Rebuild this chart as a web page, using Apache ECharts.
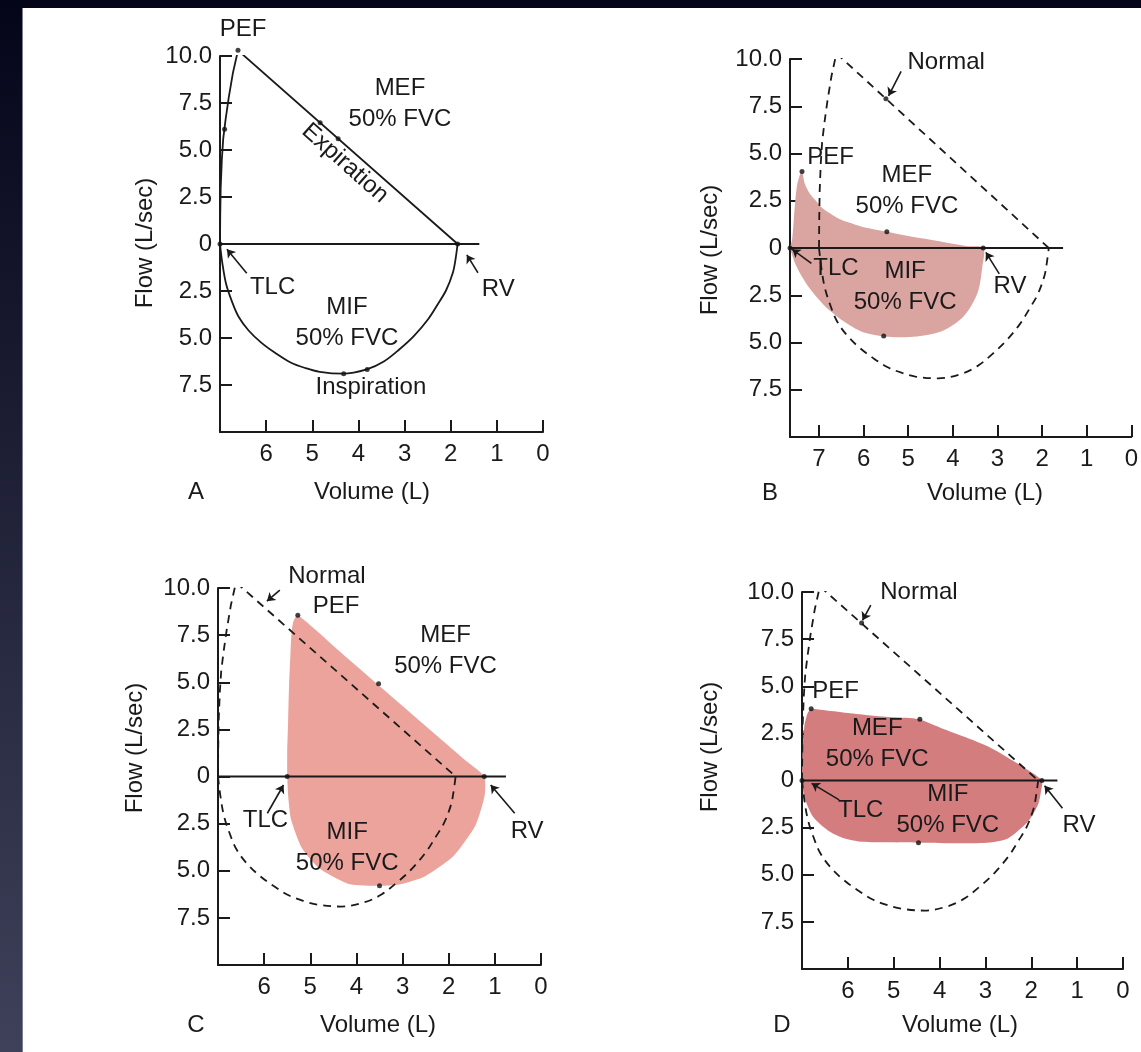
<!DOCTYPE html>
<html><head><meta charset="utf-8">
<script src="https://cdn.jsdelivr.net/npm/echarts@6/dist/echarts.min.js"></script>
<style>
html,body{margin:0;padding:0;width:1141px;height:1052px;overflow:hidden;background:#05051a;}
#band{position:absolute;left:0;top:0;width:22px;height:1052px;background:linear-gradient(#05051a,#3e4159);}
#paper{position:absolute;left:22px;top:8px;width:1119px;height:1044px;background:#fff;border-left:1px solid #7a7c90;}
#chart{position:absolute;left:0;top:0;width:1141px;height:1052px;}
</style></head><body>
<div id="band"></div><div id="paper"></div><div id="chart"></div>
<script>
// ---------- DATA ----------
const panelNames = ['A', 'B', 'C', 'D'];
const volumeMax = [7, 7.65, 7, 7];
const zeroLineEnd = [1.38, 1.53, 0.76, 1.43];

// Normal flow-volume loop [volume L, flow L/s] (solid in A, dashed "Normal" in B-D)
const normalExpiration = [[7,0],[6.995,1.5],[6.985,3],[6.96,4.5],[6.93,5.6],[6.88,6.6],[6.81,7.8],[6.72,9.1],[6.61,10.3],[1.85,0]];
const normalInspiration = [[7,0],[6.95,-1.0],[6.87,-2.1],[6.75,-3.0],[6.6,-3.86],[6.38,-4.6],[6.1,-5.26],[5.8,-5.8],[5.47,-6.3],[5.15,-6.6],[4.84,-6.8],[4.33,-6.9],[3.82,-6.67],[3.45,-6.25],[3.11,-5.6],[2.8,-4.9],[2.49,-4.0],[2.28,-3.2],[2.1,-2.46],[1.95,-1.5],[1.9,-0.88],[1.85,0]];

// Patient loops (closed outlines)
const loopB = [[7.65,0],[7.6,0.5],[7.55,2.0],[7.5,3.2],[7.44,3.8],[7.38,4.05],[7.32,3.41],[7.21,2.89],[7.05,2.45],[6.92,2.1],[6.7,1.75],[6.49,1.48],[6.2,1.25],[5.97,1.09],[5.48,0.86],[5.0,0.63],[4.5,0.43],[4.1,0.26],[3.7,0.1],[3.32,0],[3.34,-1.0],[3.45,-2.4],[3.75,-3.6],[4.2,-4.35],[4.8,-4.68],[5.55,-4.68],[6.1,-4.37],[6.74,-3.35],[7.22,-2.1],[7.52,-0.9],[7.65,0]];
const loopC = [[5.5,0],[5.5,1.3],[5.48,3.0],[5.46,4.83],[5.43,6.5],[5.41,7.5],[5.37,8.2],[5.27,8.55],[4.3,6.5],[3.3,4.38],[2.3,2.26],[1.6,0.78],[1.23,0],[1.22,-1.0],[1.42,-2.6],[1.89,-4.2],[2.52,-5.3],[3.07,-5.73],[3.5,-5.8],[4.17,-5.7],[4.79,-4.9],[5.18,-3.8],[5.42,-2.25],[5.48,-1.0],[5.5,0]];
const loopD = [[7,0],[6.99,1.45],[6.95,2.86],[6.88,3.55],[6.8,3.8],[6.6,3.75],[6.0,3.58],[5.5,3.45],[5.0,3.35],[4.46,3.25],[3.9,2.72],[3.29,2.16],[2.9,1.75],[2.5,1.2],[2.1,0.6],[1.77,0],[1.79,-0.6],[1.84,-1.2],[1.95,-1.75],[2.1,-2.26],[2.5,-3.06],[2.9,-3.29],[3.5,-3.33],[4.46,-3.3],[5.2,-3.28],[5.76,-3.23],[6.1,-3.05],[6.4,-2.71],[6.76,-1.92],[6.95,-0.86],[7,0]];
const patientLoops = [null, loopB, loopC, loopD];

// Key points (dots)
const dotsA = [[7,0],[6.9,6.1],[6.61,10.3],[4.83,6.45],[4.44,5.6],[1.85,0],[4.32,-6.9],[3.81,-6.67]];
const dotsB = [[7.65,0],[7.38,4.05],[5.48,0.86],[3.32,0],[5.55,-4.65],[5.5,7.9]];
const dotsC = [[5.5,0],[5.27,8.55],[3.52,4.92],[1.23,0],[3.5,-5.8]];
const dotsD = [[7,0],[6.8,3.8],[4.43,3.25],[1.77,0],[4.46,-3.3],[5.7,8.35]];
const dots = [dotsA, dotsB, dotsC, dotsD];

// Annotation texts [volume, flow, text]
const notesA = [[6.5,11.4,'PEF'],[3.1,7.45,'MEF\n50% FVC'],[4.29,4.29,'Expiration'],[5.86,-2.3,'TLC'],[4.25,-4.18,'MIF\n50% FVC'],[3.73,-7.62,'Inspiration'],[0.97,-2.43,'RV']];
const notesB = [[4.15,9.83,'Normal'],[6.74,4.82,'PEF'],[5.03,3.02,'MEF\n50% FVC'],[6.62,-1.07,'TLC'],[5.07,-2.08,'MIF\n50% FVC'],[2.72,-2.04,'RV']];
const notesC = [[4.64,10.6,'Normal'],[4.44,9.0,'PEF'],[2.07,6.67,'MEF\n50% FVC'],[5.97,-2.31,'TLC'],[4.2,-3.77,'MIF\n50% FVC'],[0.3,-2.93,'RV']];
const notesD = [[4.45,10.0,'Normal'],[6.27,4.71,'PEF'],[5.36,1.93,'MEF\n50% FVC'],[5.72,-1.56,'TLC'],[3.82,-1.56,'MIF\n50% FVC'],[0.96,-2.36,'RV']];
const notes = [notesA, notesB, notesC, notesD];

// Pointer arrows [from, to]
const arrowsA = [[[6.42,-1.55],[6.85,-0.28]],[[1.41,-1.53],[1.65,-0.58]]];
const arrowsB = [[[5.16,9.34],[5.44,8.05]],[[7.17,-0.81],[7.6,-0.07]],[[2.96,-1.37],[3.26,-0.23]]];
const arrowsC = [[[5.66,9.89],[5.94,9.3]],[[5.93,-1.95],[5.58,-0.45]],[[0.57,-1.95],[1.09,-0.45]]];
const arrowsD = [[[5.5,9.31],[5.68,8.5]],[[6.19,-1.03],[6.79,-0.15]],[[1.32,-1.47],[1.71,-0.28]]];
const arrows = [arrowsA, arrowsB, arrowsC, arrowsD];

const fillColors = [null, '#daa4a0', '#eba39c', '#d47d7f'];
const fillSmooth = [0, 0.3, 0.2, 0.25];

// ---------- LAYOUT ----------
const FONT = '"Liberation Sans", Arial, sans-serif';
const INK = '#1a1a1a';
const grids = [
  {left: 220, right: 598, top: 56, bottom: 620},
  {left: 790, right: 1,   top: 59, bottom: 615},
  {left: 218, right: 600, top: 588, bottom: 87},
  {left: 802, right: 18,  top: 592, bottom: 83}
];
const axisNamePos = [
  {flow:[145,243], vol:[372,492], letter:[196,492]},
  {flow:[710,250], vol:[985,493], letter:[770,493]},
  {flow:[135,748], vol:[378,1025], letter:[196,1025]},
  {flow:[710,747], vol:[960,1025], letter:[782,1025]}
];

const xAxes = [], yAxes = [], series = [], graphics = [];
for (let i = 0; i < 4; i++) {
  xAxes.push({
    gridIndex: i, type: 'value', position: 'bottom', min: 0, max: volumeMax[i], interval: 1, inverse: true,
    axisLine: {onZero: false, lineStyle: {color: INK, width: 2}},
    axisTick: {inside: true, length: 12, lineStyle: {color: INK, width: 2}},
    axisLabel: {margin: 10, color: INK, fontSize: 24, fontFamily: FONT,
      formatter: v => (Math.abs(v - Math.round(v)) > 1e-6 || (v >= 7 && volumeMax[i] <= 7)) ? '' : String(v)},
    splitLine: {show: false}
  });
  yAxes.push({
    gridIndex: i, type: 'value', position: 'left', min: -10, max: 10, interval: 2.5,
    axisLine: {onZero: false, lineStyle: {color: INK, width: 2}},
    axisTick: {inside: true, length: 12, lineStyle: {color: INK, width: 2}},
    axisLabel: {margin: 8, color: INK, fontSize: 24, fontFamily: FONT,
      formatter: v => v === 10 ? '10.0' : v === 0 ? '0' : v === -10 ? '' : Math.abs(v).toFixed(1)},
    splitLine: {show: false}
  });
  const dashed = i > 0;
  if (patientLoops[i]) {
    const pts = patientLoops[i], col = fillColors[i], sm = fillSmooth[i];
    series.push({
      type: 'custom', xAxisIndex: i, yAxisIndex: i, data: [[0, 0]], silent: true, z: 1, clip: false,
      renderItem: (params, api) => ({
        type: 'polygon',
        shape: {points: pts.map(p => api.coord(p)), smooth: sm},
        style: {fill: col}
      })
    });
  }
  series.push({
    type: 'line', xAxisIndex: i, yAxisIndex: i, data: normalExpiration, showSymbol: false, silent: true, z: 3,
    lineStyle: {color: INK, width: 1.8, type: dashed ? [8, 6] : 'solid'}
  });
  series.push({
    type: 'line', xAxisIndex: i, yAxisIndex: i, data: normalInspiration, showSymbol: false, silent: true, z: 3,
    smooth: 0.35, lineStyle: {color: INK, width: 1.8, type: dashed ? [8, 6] : 'solid'}
  });
  series.push({
    type: 'line', xAxisIndex: i, yAxisIndex: i, data: [[volumeMax[i], 0], [zeroLineEnd[i], 0]],
    showSymbol: false, silent: true, z: 4, lineStyle: {color: INK, width: 2}
  });
  series.push({
    type: 'scatter', xAxisIndex: i, yAxisIndex: i, data: dots[i], symbolSize: 5, silent: true, z: 6, clip: false,
    itemStyle: {color: '#111'}
  });
  series.push({
    type: 'lines', coordinateSystem: 'cartesian2d', xAxisIndex: i, yAxisIndex: i, silent: true, z: 6,
    symbol: ['none', 'arrow'], symbolSize: 8,
    lineStyle: {color: INK, width: 1.6, opacity: 1, curveness: 0},
    data: arrows[i].map(a => ({coords: a}))
  });
  series.push({
    type: 'scatter', xAxisIndex: i, yAxisIndex: i, symbolSize: 1, silent: true, z: 7, clip: false,
    itemStyle: {color: 'rgba(0,0,0,0)'},
    data: notes[i].map(n => ({value: [n[0], n[1]], name: n[2],
      label: n[2] === 'Expiration' ? {rotate: -41.6} : undefined})),
    label: {show: true, position: 'inside', formatter: p => p.name, color: INK, fontSize: 24,
      fontFamily: FONT, lineHeight: 31, align: 'center', verticalAlign: 'middle',
      textBorderWidth: 0, textBorderColor: 'transparent', opacity: 1}
  });
  const np = axisNamePos[i];
  graphics.push({type: 'text', x: np.flow[0], y: np.flow[1], rotation: Math.PI / 2,
    style: {text: 'Flow (L/sec)', fill: INK, font: '24px ' + FONT, align: 'center', verticalAlign: 'middle'}});
  graphics.push({type: 'text', x: np.vol[0], y: np.vol[1],
    style: {text: 'Volume (L)', fill: INK, font: '24px ' + FONT, align: 'center', verticalAlign: 'middle'}});
  graphics.push({type: 'text', x: np.letter[0], y: np.letter[1],
    style: {text: panelNames[i], fill: INK, font: '24px ' + FONT, align: 'center', verticalAlign: 'middle'}});
}

const chart = echarts.init(document.getElementById('chart'), null, {renderer: 'canvas'});
chart.setOption({
  animation: false,
  grid: grids,
  xAxis: xAxes,
  yAxis: yAxes,
  series: series,
  graphic: graphics
});
</script>
</body></html>
